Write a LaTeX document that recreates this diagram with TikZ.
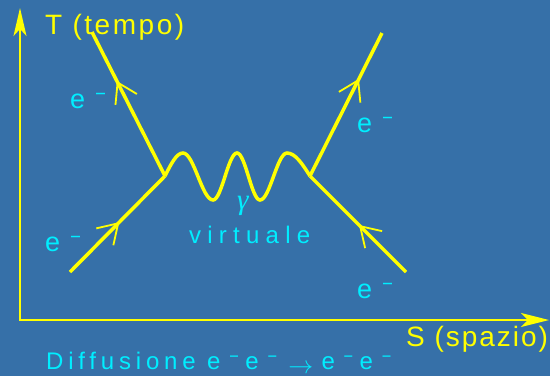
\documentclass[tikz,border=0pt]{standalone}
\usepackage{fontspec}
\usepackage{graphicx}
\setmainfont{Liberation Sans}
\newfontfamily\lsT[LetterSpace=9]{Liberation Sans}
\newfontfamily\lsS[LetterSpace=7]{Liberation Sans}
\newfontfamily\lsV[LetterSpace=26]{Liberation Sans}
\newfontfamily\lsD[LetterSpace=20]{Liberation Sans}
\newfontfamily\grk{Liberation Serif}
\usetikzlibrary{arrows.meta,decorations.markings}
\definecolor{bg}{RGB}{54,112,168}
\definecolor{yel}{RGB}{255,255,0}
\definecolor{cy}{RGB}{0,238,255}
\newcommand\emin{\hspace{0.4em}\raisebox{0.3em}{\scalebox{0.6}[0.8]{–}}}
\newcommand\eminsp{\emin\hspace{0.3em}}
\begin{document}
\begin{tikzpicture}[x=1pt,y=-1pt,
  axis/.style={draw=yel, line width=2pt, line join=miter,
    {Stealth[length=28pt,width=13pt,inset=7pt]}-{Stealth[length=28pt,width=14pt,inset=7pt]}},
  fermion/.style={draw=yel, line width=3.5pt, postaction={decorate},
    decoration={markings, mark=at position #1 with {\arrow{Straight Barb[length=19pt,width=24pt,line width=1.8pt]}}}},
  wave/.style={draw=yel, line width=3.5pt},
  lbl/.style={inner sep=0pt, anchor=base west},
  ylbl/.style={lbl, text=yel, font=\fontsize{28}{28}\selectfont},
  clbl/.style={lbl, text=cy, font=\fontsize{27}{27}\selectfont}
]
\fill[bg] (0,0) rectangle (550,376);
\useasboundingbox (0,0) rectangle (550,376);

\coordinate (ytop) at (20,8);
\coordinate (o) at (20,320);
\coordinate (xend) at (549,320);
\draw[axis] (ytop) -- (o) -- (xend);

\coordinate (vl) at (165,176);
\coordinate (vr) at (310,176);
\coordinate (tl) at (92,32);
\coordinate (bl) at (70,272);
\coordinate (tr) at (382,33);
\coordinate (br) at (406,272);

\draw[fermion=0.66] (vl) -- (tl);
\draw[fermion=0.52] (bl) -- (vl);
\draw[fermion=0.68] (vr) -- (tr);
\draw[fermion=0.49] (br) -- (vr);

\draw[wave] (vl) sin (183,153) cos (198,176.5) sin (213,200) cos (225,176.5)
  sin (237,153) cos (248.5,176.5) sin (260,200) cos (273.5,176.5)
  sin (287,153) cos (vr);

\node[ylbl] (T) at (45,34) {\lsT T (tempo)};
\node[ylbl] (S) at (406,346) {\lsS S (spazio)};

\node[clbl] (e1) at (70,108) {e\emin};
\node[clbl] (e2) at (45,251) {e\emin};
\node[clbl] (e3) at (357,132) {e\emin};
\node[clbl] (e4) at (357,298) {e\emin};

\node[lbl, text=cy, font=\fontsize{29}{29}\selectfont\grk\itshape] (g) at (237,209) {γ};
\node[lbl, text=cy, font=\fontsize{24}{24}\selectfont] (v) at (189,243) {\lsV virtuale};
\node[lbl, text=cy, font=\fontsize{24}{24}\selectfont] (d) at (46,369)
  {\lsD Diffusione e\eminsp e\eminsp\hspace{0.2em}\raisebox{-4pt}{$\rightarrow$}\hspace{0.35em}e\eminsp e\emin};
\end{tikzpicture}
\end{document}
